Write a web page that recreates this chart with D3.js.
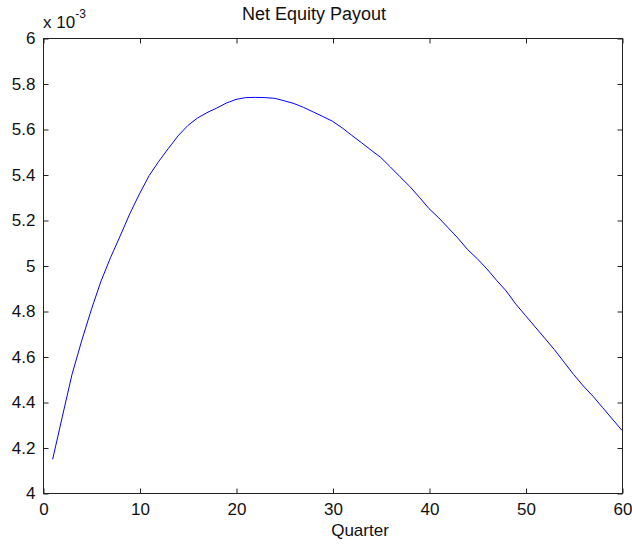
<!DOCTYPE html>
<html>
<head>
<meta charset="utf-8">
<script src="https://cdn.jsdelivr.net/npm/d3@7"></script>
<style>
  html, body { margin: 0; padding: 0; background: #fff; }
  svg { display: block; font-family: "Liberation Sans", Arial, sans-serif; }
</style>
</head>
<body>
<svg id="chart" width="632" height="546"></svg>
<script>
// Net equity payout by quarter (values in units of 1e-3)
const quarters = d3.range(1, 61);
const payout = [
  4.148, 4.335, 4.520, 4.668, 4.805, 4.930, 5.035, 5.130, 5.228, 5.315,
  5.395, 5.458, 5.515, 5.570, 5.615, 5.648, 5.672, 5.692, 5.714, 5.730,
  5.738, 5.739, 5.738, 5.735, 5.724, 5.712, 5.695, 5.675, 5.655, 5.634,
  5.605, 5.572, 5.540, 5.507, 5.475, 5.433, 5.390, 5.348, 5.300, 5.250,
  5.210, 5.165, 5.120, 5.070, 5.030, 4.985, 4.935, 4.888, 4.830, 4.780,
  4.730, 4.680, 4.630, 4.575, 4.520, 4.470, 4.425, 4.375, 4.325, 4.275
];
const xTicks = [0, 10, 20, 30, 40, 50, 60];
const yTicks = [4, 4.2, 4.4, 4.6, 4.8, 5, 5.2, 5.4, 5.6, 5.8, 6];
const titleText = "Net Equity Payout";
const xLabelText = "Quarter";
const exponentBase = "x 10";
const exponentPower = "-3";

const box = { left: 43, right: 622, top: 38, bottom: 493 };
const svg = d3.select("#chart");

const x = d3.scaleLinear().domain([0, 60]).range([box.left, box.right]);
const y = d3.scaleLinear().domain([4, 6]).range([box.bottom, box.top]);

const axisColor = "#222";
const fontSize = 17;
const tickLen = 5;

// frame
svg.append("rect")
  .attr("x", box.left + 0.5).attr("y", box.top + 0.5)
  .attr("width", box.right - box.left).attr("height", box.bottom - box.top)
  .attr("fill", "none").attr("stroke", axisColor).attr("stroke-width", 1);

// axes with inward ticks on all four sides
function styleAxis(g) {
  g.select(".domain").remove();
  g.selectAll(".tick line").attr("stroke", axisColor);
  g.selectAll(".tick text").attr("fill", "#111").style("font-size", fontSize + "px");
}

svg.append("g").attr("transform", `translate(0.5,${box.bottom + 0.5})`)
  .call(d3.axisBottom(x).tickValues(xTicks).tickSize(-tickLen).tickPadding(9).tickFormat(d3.format("d")))
  .call(styleAxis);
svg.append("g").attr("transform", `translate(0.5,${box.top + 0.5})`)
  .call(d3.axisTop(x).tickValues(xTicks).tickSize(-tickLen).tickFormat(""))
  .call(styleAxis);
svg.append("g").attr("transform", `translate(${box.left + 0.5},0.5)`)
  .call(d3.axisLeft(y).tickValues(yTicks).tickSize(-tickLen).tickPadding(8).tickFormat(d => d3.format("")(+d.toFixed(1))))
  .call(styleAxis);
svg.append("g").attr("transform", `translate(${box.right + 0.5},0.5)`)
  .call(d3.axisRight(y).tickValues(yTicks).tickSize(-tickLen).tickFormat(""))
  .call(styleAxis);

// curve
const line = d3.line().x((d, i) => x(quarters[i])).y(d => y(d));
svg.append("path")
  .datum(payout)
  .attr("d", line)
  .attr("fill", "none")
  .attr("stroke", "#0000ff")
  .attr("stroke-width", 1);

// title
svg.append("text")
  .attr("x", 314).attr("y", 20)
  .attr("text-anchor", "middle")
  .style("font-size", "18px").attr("fill", "#111")
  .text(titleText);

// x label
svg.append("text")
  .attr("x", 360).attr("y", 536)
  .attr("text-anchor", "middle")
  .style("font-size", fontSize + "px").attr("fill", "#111")
  .text(xLabelText);

// exponent marker
const expo = svg.append("text").attr("x", 43).attr("y", 28)
  .style("font-size", fontSize + "px").attr("fill", "#111");
expo.append("tspan").text(exponentBase);
expo.append("tspan").attr("dy", -10).style("font-size", "12px").text(exponentPower);
</script>
</body>
</html>
